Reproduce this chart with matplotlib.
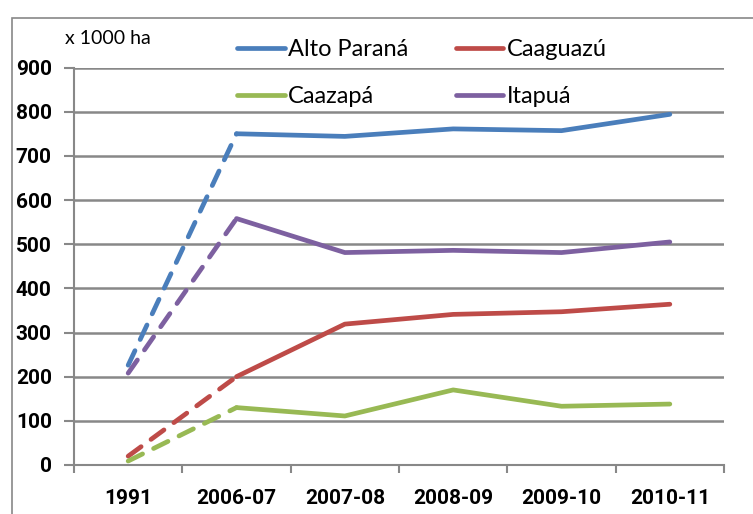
import matplotlib.pyplot as plt
from matplotlib.patches import Rectangle
import numpy as np

plt.rcParams['font.family'] = ['Lato', 'DejaVu Sans']

anios = ['1991', '2006-07', '2007-08', '2008-09', '2009-10', '2010-11']
alto_parana = [226, 750, 744, 761, 757, 794]
caaguazu = [20, 200, 319, 341, 347, 364]
caazapa = [9, 130, 111, 170, 133, 138]
itapua = [208, 558, 481, 486, 481, 505]

series = [
    ('Alto Paraná', alto_parana, '#4A7EBB'),
    ('Caaguazú', caaguazu, '#BE4B48'),
    ('Caazapá', caazapa, '#98B954'),
    ('Itapuá', itapua, '#7D60A0'),
]

fig = plt.figure(figsize=(7.53, 5.14), dpi=100)
fig.patches.append(Rectangle((12 / 753, -0.01), 0.99, (514 - 18) / 514 + 0.01,
                             transform=fig.transFigure, fill=False,
                             edgecolor='#888888', linewidth=1.2))

ax = fig.add_axes([74 / 753, 49 / 514, 650 / 753, 397.5 / 514])
x = np.arange(len(anios))

lineas = {}
for nombre, valores, color in series:
    # tramo 1991 -> 2006-07 con trazos
    ax.plot(x[:2], valores[:2], color=color, lw=3.4,
            linestyle=(0, (3.4, 2.6)), dash_capstyle='round')
    l, = ax.plot(x[1:], valores[1:], color=color, lw=3.4, label=nombre,
                 solid_capstyle='round', solid_joinstyle='round')
    lineas[nombre] = l

ax.set_xlim(-0.5, len(anios) - 0.5)
ax.set_ylim(0, 900)
ax.set_yticks(range(0, 901, 100))
ax.set_xticks(x)
ax.set_xticklabels(anios)
ax.set_xticks(np.arange(-0.5, len(anios), 1), minor=True)
ax.tick_params(axis='x', which='major', length=0, pad=17)
ax.tick_params(axis='x', which='minor', length=6, width=1.5, color='#888888')
ax.tick_params(axis='y', length=7, width=1.5, color='#888888', pad=9)
for lab in ax.get_xticklabels() + ax.get_yticklabels():
    lab.set_fontfamily(['Roboto', 'DejaVu Sans'])
    lab.set_fontweight('bold')
    lab.set_fontsize(15)

ax.grid(axis='y', color='#888888', linewidth=1.8)
ax.set_axisbelow(True)
for s in ['top', 'right']:
    ax.spines[s].set_visible(False)
for s in ['left', 'bottom']:
    ax.spines[s].set_color('#888888')
    ax.spines[s].set_linewidth(1.5)

fig.text(65 / 753, 1 - 38 / 514, 'x 1000 ha', fontsize=14, va='center', ha='left')

orden = ['Alto Paraná', 'Caazapá', 'Caaguazú', 'Itapuá']
fig.legend([lineas[n] for n in orden], orden,
           loc='upper left', bbox_to_anchor=(228 / 753, 1 - 30 / 514), ncol=2,
           frameon=False, fontsize=17, handlelength=2.0, handletextpad=0.15,
           columnspacing=2.0, labelspacing=1.1, borderaxespad=0)

fig.savefig('out.png', dpi=100)
